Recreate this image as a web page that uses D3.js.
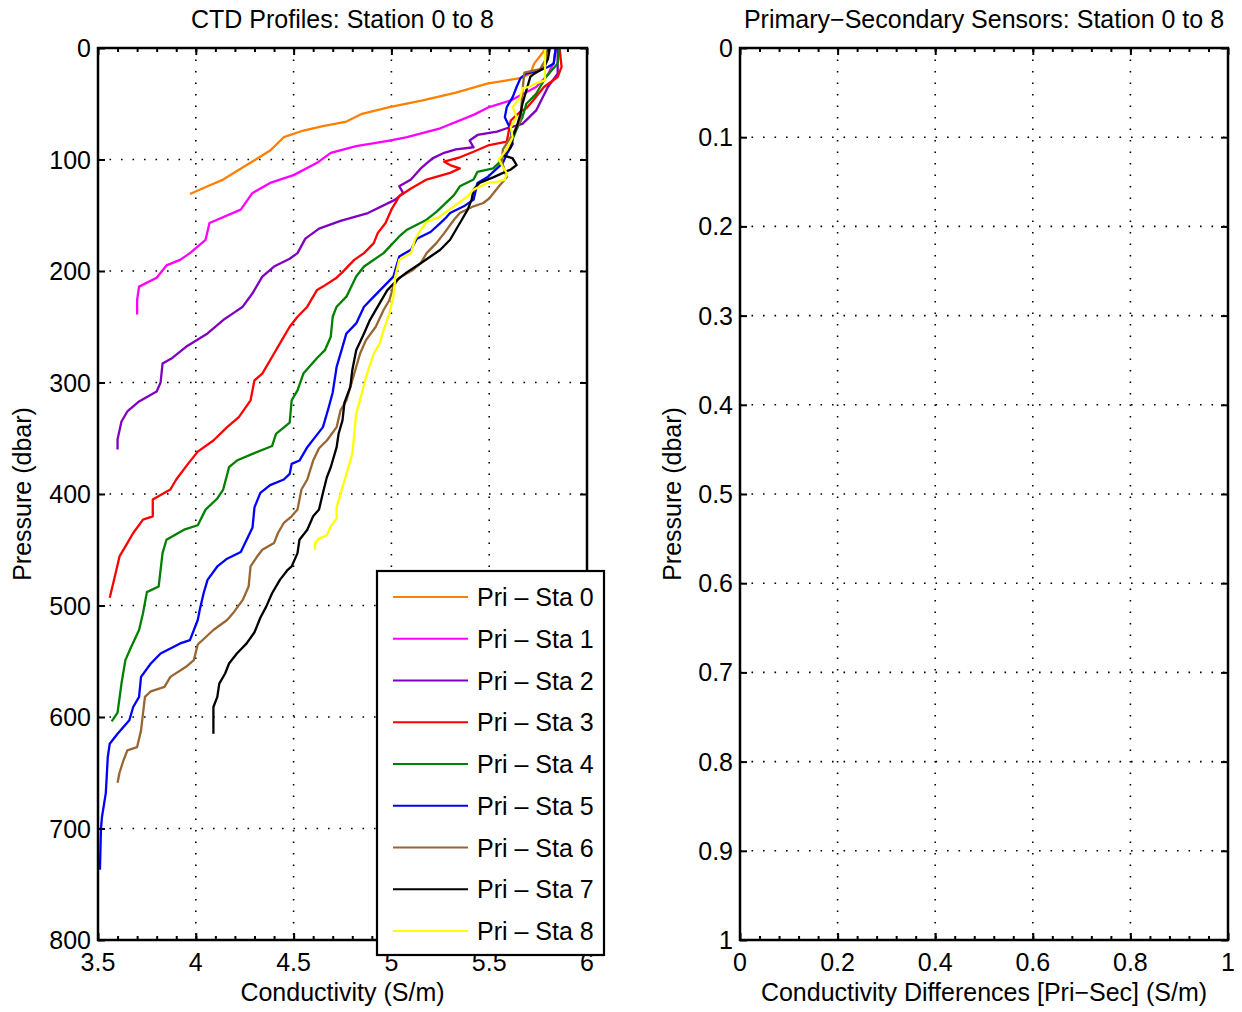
<!DOCTYPE html>
<html>
<head>
<meta charset="utf-8">
<script src="https://cdn.jsdelivr.net/npm/d3@7"></script>
<style>
html,body{margin:0;padding:0;background:#fff;}
svg{display:block;}
</style>
</head>
<body>
<svg id="chart" width="1242" height="1012"></svg>
<script>
// ---------------- DATA ----------------
// each station: [pressure (dbar), conductivity (S/m)]
const sta0 = [[0,5.79],[5,5.77],[14,5.73],[23,5.71],[27,5.66],[32,5.49],[40,5.33],[47,5.16],[53,4.99],[59,4.85],[66,4.77],[70,4.65],[74,4.55],[80,4.45],[92,4.38],[105,4.26],[118,4.14],[124,4.06],[131,3.97]];
const sta1 = [[0,5.84],[13,5.83],[24,5.80],[35,5.74],[47,5.61],[53,5.50],[60,5.42],[72,5.25],[80,5.08],[83,4.99],[88,4.82],[94,4.69],[103,4.62],[114,4.50],[121,4.38],[130,4.29],[145,4.23],[157,4.07],[172,4.05],[184,3.97],[190,3.92],[195,3.85],[206,3.80],[214,3.71],[226,3.70],[239,3.70]];
const sta2 = [[0,5.85],[23,5.85],[35,5.80],[56,5.74],[68,5.67],[72,5.59],[75,5.54],[78,5.44],[83,5.40],[89,5.42],[91,5.33],[94,5.27],[99,5.21],[108,5.15],[118,5.10],[124,5.04],[130,5.06],[136,5.02],[148,4.88],[155,4.74],[162,4.63],[171,4.56],[184,4.52],[189,4.48],[196,4.40],[205,4.34],[220,4.29],[232,4.24],[238,4.19],[244,4.14],[256,4.06],[268,3.95],[278,3.88],[283,3.83],[300,3.82],[308,3.80],[313,3.75],[317,3.71],[326,3.65],[335,3.62],[351,3.60],[360,3.60]];
const sta3 = [[0,5.86],[17,5.87],[26,5.85],[35,5.78],[48,5.72],[54,5.69],[57,5.66],[65,5.61],[84,5.59],[87,5.50],[93,5.42],[98,5.35],[102,5.27],[105,5.30],[108,5.35],[112,5.30],[118,5.18],[126,5.10],[133,5.04],[145,5.00],[157,4.97],[166,4.93],[175,4.91],[184,4.86],[190,4.81],[201,4.75],[206,4.72],[214,4.65],[217,4.62],[232,4.57],[241,4.52],[250,4.48],[262,4.44],[274,4.40],[292,4.34],[298,4.30],[316,4.28],[331,4.22],[340,4.16],[352,4.09],[362,4.01],[373,3.96],[387,3.90],[396,3.87],[405,3.78],[420,3.78],[423,3.73],[435,3.68],[444,3.65],[456,3.61],[471,3.59],[493,3.56]];
const sta4 = [[0,5.86],[14,5.85],[18,5.83],[26,5.79],[41,5.74],[50,5.69],[62,5.67],[73,5.64],[82,5.62],[91,5.59],[103,5.55],[108,5.52],[111,5.44],[118,5.42],[124,5.35],[132,5.32],[142,5.26],[147,5.23],[154,5.18],[163,5.08],[169,5.04],[184,4.96],[196,4.86],[205,4.82],[223,4.77],[232,4.72],[241,4.70],[259,4.69],[271,4.66],[278,4.62],[292,4.55],[307,4.52],[316,4.49],[336,4.48],[346,4.41],[357,4.39],[364,4.29],[370,4.21],[376,4.17],[396,4.14],[404,4.11],[414,4.05],[428,4.01],[432,3.94],[441,3.85],[453,3.83],[483,3.81],[488,3.75],[507,3.73],[522,3.71],[537,3.67],[549,3.64],[570,3.62],[596,3.60],[604,3.57]];
const sta5 = [[0,5.84],[14,5.83],[17,5.80],[20,5.76],[23,5.69],[27,5.66],[35,5.64],[44,5.62],[53,5.59],[62,5.58],[73,5.61],[86,5.62],[95,5.59],[103,5.57],[108,5.54],[116,5.49],[121,5.44],[136,5.42],[142,5.37],[148,5.30],[152,5.28],[157,5.25],[165,5.20],[171,5.13],[181,5.10],[187,5.04],[205,5.01],[214,4.96],[223,4.91],[232,4.86],[247,4.82],[256,4.77],[268,4.75],[286,4.72],[309,4.70],[322,4.68],[340,4.65],[349,4.61],[358,4.57],[370,4.53],[373,4.49],[382,4.48],[387,4.45],[392,4.38],[399,4.33],[412,4.30],[430,4.29],[441,4.26],[452,4.23],[458,4.16],[465,4.11],[477,4.06],[489,4.04],[504,4.02],[513,4.01],[531,3.97],[534,3.92],[543,3.82],[552,3.77],[564,3.72],[582,3.71],[591,3.68],[603,3.66],[609,3.63],[615,3.60],[624,3.56],[636,3.55],[668,3.54],[690,3.52],[701,3.515],[737,3.51]];
const sta6 = [[0,5.80],[10,5.79],[19,5.76],[22,5.68],[38,5.67],[65,5.66],[77,5.62],[91,5.57],[102,5.565],[116,5.59],[124,5.55],[135,5.50],[139,5.47],[142,5.42],[148,5.35],[154,5.32],[166,5.27],[175,5.23],[184,5.18],[193,5.15],[199,5.11],[206,5.04],[214,5.01],[226,4.99],[235,4.96],[250,4.92],[262,4.87],[274,4.84],[292,4.81],[316,4.77],[325,4.74],[340,4.72],[352,4.67],[359,4.63],[370,4.60],[387,4.57],[396,4.54],[414,4.52],[420,4.49],[426,4.45],[435,4.42],[444,4.40],[450,4.34],[457,4.31],[465,4.28],[483,4.27],[495,4.24],[507,4.19],[513,4.16],[522,4.09],[535,4.01],[549,3.99],[555,3.95],[564,3.87],[573,3.84],[577,3.77],[582,3.74],[612,3.72],[627,3.70],[630,3.65],[639,3.63],[650,3.61],[659,3.60]];
const sta7 = [[0,5.81],[10,5.80],[18,5.78],[23,5.73],[26,5.71],[38,5.69],[50,5.67],[59,5.66],[71,5.64],[80,5.62],[89,5.61],[96,5.57],[99,5.62],[105,5.64],[109,5.61],[116,5.52],[121,5.45],[127,5.42],[136,5.41],[145,5.39],[154,5.36],[163,5.33],[172,5.30],[181,5.25],[187,5.20],[193,5.15],[201,5.08],[208,5.03],[217,4.98],[232,4.93],[244,4.89],[256,4.86],[271,4.82],[289,4.80],[304,4.79],[318,4.76],[334,4.75],[346,4.73],[358,4.72],[376,4.69],[385,4.67],[399,4.65],[414,4.63],[420,4.60],[432,4.57],[441,4.53],[453,4.52],[465,4.49],[468,4.47],[477,4.43],[489,4.39],[501,4.36],[511,4.33],[524,4.30],[534,4.26],[543,4.21],[552,4.17],[561,4.15],[570,4.12],[582,4.11],[591,4.09],[615,4.09]];
const sta8 = [[0,5.785],[29,5.785],[31,5.75],[35,5.70],[36,5.67],[44,5.66],[53,5.62],[62,5.64],[71,5.61],[80,5.62],[91,5.59],[100,5.55],[107,5.57],[112,5.59],[118,5.58],[120,5.54],[121,5.49],[127,5.42],[133,5.39],[142,5.32],[152,5.24],[156,5.18],[163,5.15],[172,5.12],[184,5.10],[190,5.04],[205,5.02],[223,5.01],[238,4.99],[253,4.96],[265,4.94],[274,4.91],[295,4.87],[309,4.85],[328,4.82],[346,4.81],[364,4.80],[376,4.78],[394,4.75],[412,4.72],[422,4.72],[429,4.69],[437,4.67],[440,4.63],[444,4.61],[450,4.61]];

const stations = [sta0, sta1, sta2, sta3, sta4, sta5, sta6, sta7, sta8];
const legendLabels = ["Pri \u2013 Sta 0","Pri \u2013 Sta 1","Pri \u2013 Sta 2","Pri \u2013 Sta 3","Pri \u2013 Sta 4","Pri \u2013 Sta 5","Pri \u2013 Sta 6","Pri \u2013 Sta 7","Pri \u2013 Sta 8"];
const stationColors = ["#ff8000","#ff00ff","#8000c0","#ff0000","#008000","#0000ff","#996633","#000000","#ffff00"];

const condTicks = [3.5, 4, 4.5, 5, 5.5, 6];
const condMinorTicks = d3.range(36, 60, 1).map(v => v / 10);
const presTicks = [0, 100, 200, 300, 400, 500, 600, 700, 800];
const diffTicks = [0, 0.2, 0.4, 0.6, 0.8, 1];
const diffMinorTicks = d3.range(1, 25, 1).map(v => v * 0.04);
const diffPresTicks = [0, 0.1, 0.2, 0.3, 0.4, 0.5, 0.6, 0.7, 0.8, 0.9, 1];

const titles = ["CTD Profiles: Station 0 to 8", "Primary\u2212Secondary Sensors: Station 0 to 8"];
const xLabels = ["Conductivity (S/m)", "Conductivity Differences [Pri\u2212Sec] (S/m)"];
const yLabel = "Pressure (dbar)";

// ---------------- LAYOUT ----------------
const FONT = "'Liberation Sans', Arial, Helvetica, sans-serif";
const FS = 25;
const svg = d3.select("#chart");

const x1 = d3.scaleLinear().domain([3.5, 6]).range([98, 587]);
const y1 = d3.scaleLinear().domain([0, 800]).range([48, 940]);
const x2 = d3.scaleLinear().domain([0, 1]).range([740, 1228]);
const y2 = d3.scaleLinear().domain([0, 1]).range([48, 940]);

const fmt = d => String(+(+d).toFixed(2));

function drawPanel(g, x, y, xt, xmt, yt, clipId) {
  const [xa, xb] = x.range();
  const [ya, yb] = y.range();
  const grid = g.append("g").attr("class", "grid");
  grid.selectAll("line.gx").data(xt).join("line")
    .attr("x1", d => x(d)).attr("x2", d => x(d))
    .attr("y1", ya).attr("y2", yb)
    .attr("stroke", "#000").attr("stroke-width", 1.6)
    .attr("stroke-dasharray", "1.6,9.9");
  grid.selectAll("line.gy").data(yt).join("line")
    .attr("x1", xa).attr("x2", xb)
    .attr("y1", d => y(d)).attr("y2", d => y(d))
    .attr("stroke", "#000").attr("stroke-width", 1.6)
    .attr("stroke-dasharray", "1.6,9.9");
  g.append("clipPath").attr("id", clipId).append("rect")
    .attr("x", xa).attr("y", ya).attr("width", xb - xa).attr("height", yb - ya);
}

function drawFrame(g, x, y, xt, xmt, yt) {
  const [xa, xb] = x.range();
  const [ya, yb] = y.range();
  const tickStyle = sel => {
    sel.select(".domain").remove();
    sel.selectAll(".tick line").attr("stroke", "#000").attr("stroke-width", 2);
    sel.selectAll(".tick text").remove();
  };
  g.append("g").attr("transform", `translate(0,${yb})`)
    .call(d3.axisBottom(x).tickValues(xt).tickSize(-7)).call(tickStyle);
  g.append("g").attr("transform", `translate(0,${ya})`)
    .call(d3.axisTop(x).tickValues(xt).tickSize(-7)).call(tickStyle);
  g.append("g").attr("transform", `translate(0,${yb})`)
    .call(d3.axisBottom(x).tickValues(xmt).tickSize(-4)).call(tickStyle);
  g.append("g").attr("transform", `translate(0,${ya})`)
    .call(d3.axisTop(x).tickValues(xmt).tickSize(-4)).call(tickStyle);
  g.append("g").attr("transform", `translate(${xa},0)`)
    .call(d3.axisLeft(y).tickValues(yt).tickSize(-7)).call(tickStyle);
  g.append("g").attr("transform", `translate(${xb},0)`)
    .call(d3.axisRight(y).tickValues(yt).tickSize(-7)).call(tickStyle);
  g.append("rect").attr("x", xa).attr("y", ya).attr("width", xb - xa).attr("height", yb - ya)
    .attr("fill", "none").attr("stroke", "#000").attr("stroke-width", 2.5);
  const lab = g.append("g").attr("font-family", FONT).attr("font-size", FS).attr("fill", "#000");
  lab.selectAll("text.xl").data(xt).join("text")
    .attr("x", d => x(d)).attr("y", yb + 31).attr("text-anchor", "middle").text(fmt);
  lab.selectAll("text.yl").data(yt).join("text")
    .attr("x", xa - 7).attr("y", d => y(d) + 9).attr("text-anchor", "end").text(fmt);
}

// ---------- left panel ----------
const gL = svg.append("g");
drawPanel(gL, x1, y1, condTicks, condMinorTicks, presTicks, "clipL");
const line = d3.line().x(d => x1(d[1])).y(d => y1(d[0]));
gL.append("g").attr("clip-path", "url(#clipL)")
  .selectAll("path").data(stations).join("path")
  .attr("d", line).attr("fill", "none")
  .attr("stroke", (d, i) => stationColors[i]).attr("stroke-width", 2.3)
  .attr("stroke-linejoin", "round");
drawFrame(gL, x1, y1, condTicks, condMinorTicks, presTicks);

// ---------- right panel ----------
const gR = svg.append("g");
drawPanel(gR, x2, y2, diffTicks, diffMinorTicks, diffPresTicks, "clipR");
drawFrame(gR, x2, y2, diffTicks, diffMinorTicks, diffPresTicks);

// titles and labels
const txt = svg.append("g").attr("font-family", FONT).attr("font-size", FS).attr("fill", "#000");
[[x1, 0], [x2, 1]].forEach(([x, i]) => {
  const cx = d3.mean(x.range());
  txt.append("text").attr("x", cx).attr("y", 28).attr("text-anchor", "middle").text(titles[i]);
  txt.append("text").attr("x", cx).attr("y", 1001).attr("text-anchor", "middle").text(xLabels[i]);
});
txt.append("text").attr("transform", `translate(31,${d3.mean(y1.range())}) rotate(-90)`)
  .attr("text-anchor", "middle").text(yLabel);
txt.append("text").attr("transform", `translate(681,${d3.mean(y2.range())}) rotate(-90)`)
  .attr("text-anchor", "middle").text(yLabel);

// legend
const leg = svg.append("g");
leg.append("rect").attr("x", 377).attr("y", 571).attr("width", 227).attr("height", 384)
  .attr("fill", "#fff").attr("stroke", "#000").attr("stroke-width", 2.2);
const ly = d3.scaleLinear().domain([0, 8]).range([597, 931]);
const items = leg.selectAll("g.item").data(legendLabels).join("g")
  .attr("transform", (d, i) => `translate(0,${ly(i)})`);
items.append("line").attr("x1", 393).attr("x2", 468).attr("y1", 0).attr("y2", 0)
  .attr("stroke", (d, i) => stationColors[i]).attr("stroke-width", 2.2);
items.append("text").attr("x", 477).attr("y", 9)
  .attr("font-family", FONT).attr("font-size", FS).attr("fill", "#000").text(d => d);
</script>
</body>
</html>
